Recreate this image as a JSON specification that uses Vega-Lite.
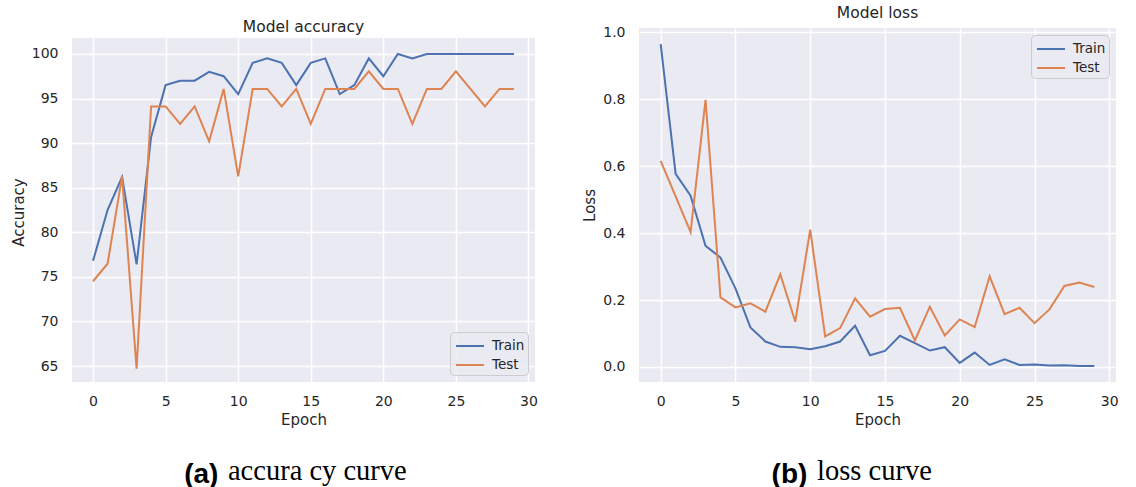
{
  "$schema": "https://vega.github.io/schema/vega-lite/v6.json",
  "background": "white",
  "padding": {"left": 11, "top": 5, "right": 5, "bottom": 0},
  "datasets": {
    "acc": [
      {"epoch": 0, "series": "Train", "value": 76.8}, {"epoch": 1, "series": "Train", "value": 82.5}, {"epoch": 2, "series": "Train", "value": 86.2}, {"epoch": 3, "series": "Train", "value": 76.4}, {"epoch": 4, "series": "Train", "value": 90.7}, {"epoch": 5, "series": "Train", "value": 96.5}, {"epoch": 6, "series": "Train", "value": 97.0}, {"epoch": 7, "series": "Train", "value": 97.0}, {"epoch": 8, "series": "Train", "value": 98.0}, {"epoch": 9, "series": "Train", "value": 97.5}, {"epoch": 10, "series": "Train", "value": 95.5}, {"epoch": 11, "series": "Train", "value": 99.0}, {"epoch": 12, "series": "Train", "value": 99.5}, {"epoch": 13, "series": "Train", "value": 99.0}, {"epoch": 14, "series": "Train", "value": 96.5}, {"epoch": 15, "series": "Train", "value": 99.0}, {"epoch": 16, "series": "Train", "value": 99.5}, {"epoch": 17, "series": "Train", "value": 95.5}, {"epoch": 18, "series": "Train", "value": 96.5}, {"epoch": 19, "series": "Train", "value": 99.5}, {"epoch": 20, "series": "Train", "value": 97.5}, {"epoch": 21, "series": "Train", "value": 100}, {"epoch": 22, "series": "Train", "value": 99.5}, {"epoch": 23, "series": "Train", "value": 100}, {"epoch": 24, "series": "Train", "value": 100}, {"epoch": 25, "series": "Train", "value": 100}, {"epoch": 26, "series": "Train", "value": 100}, {"epoch": 27, "series": "Train", "value": 100}, {"epoch": 28, "series": "Train", "value": 100}, {"epoch": 29, "series": "Train", "value": 100},
      {"epoch": 0, "series": "Test", "value": 74.51}, {"epoch": 1, "series": "Test", "value": 76.47}, {"epoch": 2, "series": "Test", "value": 86.27}, {"epoch": 3, "series": "Test", "value": 64.71}, {"epoch": 4, "series": "Test", "value": 94.12}, {"epoch": 5, "series": "Test", "value": 94.12}, {"epoch": 6, "series": "Test", "value": 92.16}, {"epoch": 7, "series": "Test", "value": 94.12}, {"epoch": 8, "series": "Test", "value": 90.2}, {"epoch": 9, "series": "Test", "value": 96.08}, {"epoch": 10, "series": "Test", "value": 86.27}, {"epoch": 11, "series": "Test", "value": 96.08}, {"epoch": 12, "series": "Test", "value": 96.08}, {"epoch": 13, "series": "Test", "value": 94.12}, {"epoch": 14, "series": "Test", "value": 96.08}, {"epoch": 15, "series": "Test", "value": 92.16}, {"epoch": 16, "series": "Test", "value": 96.08}, {"epoch": 17, "series": "Test", "value": 96.08}, {"epoch": 18, "series": "Test", "value": 96.08}, {"epoch": 19, "series": "Test", "value": 98.04}, {"epoch": 20, "series": "Test", "value": 96.08}, {"epoch": 21, "series": "Test", "value": 96.08}, {"epoch": 22, "series": "Test", "value": 92.16}, {"epoch": 23, "series": "Test", "value": 96.08}, {"epoch": 24, "series": "Test", "value": 96.08}, {"epoch": 25, "series": "Test", "value": 98.04}, {"epoch": 26, "series": "Test", "value": 96.08}, {"epoch": 27, "series": "Test", "value": 94.12}, {"epoch": 28, "series": "Test", "value": 96.08}, {"epoch": 29, "series": "Test", "value": 96.08}
    ],
    "loss": [
      {"epoch": 0, "series": "Train", "value": 0.965}, {"epoch": 1, "series": "Train", "value": 0.577}, {"epoch": 2, "series": "Train", "value": 0.512}, {"epoch": 3, "series": "Train", "value": 0.362}, {"epoch": 4, "series": "Train", "value": 0.327}, {"epoch": 5, "series": "Train", "value": 0.235}, {"epoch": 6, "series": "Train", "value": 0.118}, {"epoch": 7, "series": "Train", "value": 0.076}, {"epoch": 8, "series": "Train", "value": 0.06}, {"epoch": 9, "series": "Train", "value": 0.059}, {"epoch": 10, "series": "Train", "value": 0.053}, {"epoch": 11, "series": "Train", "value": 0.062}, {"epoch": 12, "series": "Train", "value": 0.076}, {"epoch": 13, "series": "Train", "value": 0.123}, {"epoch": 14, "series": "Train", "value": 0.035}, {"epoch": 15, "series": "Train", "value": 0.048}, {"epoch": 16, "series": "Train", "value": 0.093}, {"epoch": 17, "series": "Train", "value": 0.071}, {"epoch": 18, "series": "Train", "value": 0.049}, {"epoch": 19, "series": "Train", "value": 0.059}, {"epoch": 20, "series": "Train", "value": 0.012}, {"epoch": 21, "series": "Train", "value": 0.043}, {"epoch": 22, "series": "Train", "value": 0.006}, {"epoch": 23, "series": "Train", "value": 0.023}, {"epoch": 24, "series": "Train", "value": 0.006}, {"epoch": 25, "series": "Train", "value": 0.007}, {"epoch": 26, "series": "Train", "value": 0.004}, {"epoch": 27, "series": "Train", "value": 0.005}, {"epoch": 28, "series": "Train", "value": 0.003}, {"epoch": 29, "series": "Train", "value": 0.003},
      {"epoch": 0, "series": "Test", "value": 0.616}, {"epoch": 1, "series": "Test", "value": 0.51}, {"epoch": 2, "series": "Test", "value": 0.403}, {"epoch": 3, "series": "Test", "value": 0.798}, {"epoch": 4, "series": "Test", "value": 0.208}, {"epoch": 5, "series": "Test", "value": 0.178}, {"epoch": 6, "series": "Test", "value": 0.19}, {"epoch": 7, "series": "Test", "value": 0.165}, {"epoch": 8, "series": "Test", "value": 0.277}, {"epoch": 9, "series": "Test", "value": 0.135}, {"epoch": 10, "series": "Test", "value": 0.41}, {"epoch": 11, "series": "Test", "value": 0.091}, {"epoch": 12, "series": "Test", "value": 0.116}, {"epoch": 13, "series": "Test", "value": 0.205}, {"epoch": 14, "series": "Test", "value": 0.15}, {"epoch": 15, "series": "Test", "value": 0.173}, {"epoch": 16, "series": "Test", "value": 0.177}, {"epoch": 17, "series": "Test", "value": 0.079}, {"epoch": 18, "series": "Test", "value": 0.18}, {"epoch": 19, "series": "Test", "value": 0.094}, {"epoch": 20, "series": "Test", "value": 0.142}, {"epoch": 21, "series": "Test", "value": 0.119}, {"epoch": 22, "series": "Test", "value": 0.271}, {"epoch": 23, "series": "Test", "value": 0.158}, {"epoch": 24, "series": "Test", "value": 0.177}, {"epoch": 25, "series": "Test", "value": 0.131}, {"epoch": 26, "series": "Test", "value": 0.172}, {"epoch": 27, "series": "Test", "value": 0.242}, {"epoch": 28, "series": "Test", "value": 0.252}, {"epoch": 29, "series": "Test", "value": 0.239}
    ]
  },
  "config": {
    "view": {"fill": "#eaeaf2", "stroke": null},
    "axis": {"domain": false, "ticks": false, "grid": true, "gridColor": "white", "gridWidth": 1.5, "labelFont": "DejaVu Sans", "labelFontSize": 14, "labelColor": "#262626", "titleFont": "DejaVu Sans", "titleFontSize": 15, "titleFontWeight": "normal", "titleColor": "#262626"},
    "axisX": {"labelPadding": 12, "titlePadding": 4},
    "axisY": {"labelPadding": 14, "titlePadding": 5},
    "title": {"font": "DejaVu Sans", "fontSize": 15.5, "fontWeight": "normal", "color": "#262626"},
    "legend": {"title": null, "symbolType": "M-1.4,0H1.4", "symbolStrokeWidth": 2, "symbolSize": 400, "symbolOffset": 6, "labelFont": "DejaVu Sans", "labelFontSize": 13.5, "labelColor": "#262626", "fillColor": "rgba(234,234,242,0.85)", "strokeColor": "#cccccc", "cornerRadius": 4, "padding": 3, "labelOffset": 11, "rowPadding": 1, "offset": 7}
  },
  "spacing": 44,
  "resolve": {"scale": {"color": "independent"}, "legend": {"color": "independent"}},
  "hconcat": [
    {
      "title": {"text": "accura cy curve", "orient": "bottom", "font": "Liberation Serif", "fontSize": 28.5, "fontWeight": "normal", "color": "black", "baseline": "alphabetic", "dx": 43, "dy": -13, "anchor": "middle"},
      "resolve": {"scale": {"color": "independent"}, "legend": {"color": "independent"}},
      "vconcat": [
        {
          "title": {"text": "(a)", "orient": "bottom", "font": "Liberation Sans", "fontSize": 28, "fontWeight": "bold", "color": "black", "baseline": "alphabetic", "offset": 56, "dx": -73, "anchor": "middle"},
          "resolve": {"scale": {"color": "independent"}, "legend": {"color": "independent"}},
          "vconcat": [
            {
              "width": 463,
              "height": 354,
              "title": {"text": "Model accuracy", "baseline": "alphabetic", "offset": -8, "dy": 11},
              "layer": [
                {
                  "data": {"values": [{}]},
                  "mark": {"type": "rect", "fill": "white"},
                  "encoding": {
                    "x": {"datum": -1.45, "type": "quantitative"},
                    "x2": {"datum": 30.45},
                    "y": {"datum": 101.79, "type": "quantitative"},
                    "y2": {"datum": 102.91}
                  }
                },
                {
                  "data": {"name": "acc"},
                  "mark": {"type": "line", "strokeWidth": 2},
                  "encoding": {
                    "x": {"field": "epoch", "type": "quantitative", "title": "Epoch", "scale": {"domain": [-1.45, 30.45], "nice": false, "zero": false}, "axis": {"values": [0, 5, 10, 15, 20, 25, 30]}},
                    "y": {"field": "value", "type": "quantitative", "title": "Accuracy", "scale": {"domain": [63.21, 102.91], "nice": false, "zero": false}, "axis": {"values": [65, 70, 75, 80, 85, 90, 95, 100], "titleY": 184}},
                    "color": {"field": "series", "type": "nominal", "scale": {"domain": ["Train", "Test"], "range": ["#4c72b0", "#dd8452"]}, "legend": {"orient": "bottom-right"}},
                    "order": {"field": "epoch", "type": "quantitative"}
                  }
                }
              ]
            }
          ]
        }
      ]
    },
    {
      "title": {"text": "loss curve", "orient": "bottom", "font": "Liberation Serif", "fontSize": 28.5, "fontWeight": "normal", "color": "black", "baseline": "alphabetic", "dx": 24, "dy": -13, "anchor": "middle"},
      "resolve": {"scale": {"color": "independent"}, "legend": {"color": "independent"}},
      "vconcat": [
        {
          "title": {"text": "(b)", "orient": "bottom", "font": "Liberation Sans", "fontSize": 28, "fontWeight": "bold", "color": "black", "baseline": "alphabetic", "offset": 56, "dx": -61, "anchor": "middle"},
          "resolve": {"scale": {"color": "independent"}, "legend": {"color": "independent"}},
          "vconcat": [
            {
              "width": 477,
              "height": 354,
              "title": {"text": "Model loss", "baseline": "alphabetic", "offset": -8},
              "data": {"name": "loss"},
              "mark": {"type": "line", "strokeWidth": 2},
              "encoding": {
                "x": {"field": "epoch", "type": "quantitative", "title": "Epoch", "scale": {"domain": [-1.45, 30.45], "nice": false, "zero": false}, "axis": {"values": [0, 5, 10, 15, 20, 25, 30]}},
                "y": {"field": "value", "type": "quantitative", "title": "Loss", "scale": {"domain": [-0.045, 1.013], "nice": false, "zero": false}, "axis": {"values": [0, 0.2, 0.4, 0.6, 0.8, 1.0], "format": ".1f"}},
                "color": {"field": "series", "type": "nominal", "scale": {"domain": ["Train", "Test"], "range": ["#4c72b0", "#dd8452"]}, "legend": {"orient": "top-right"}},
                "order": {"field": "epoch", "type": "quantitative"}
              }
            }
          ]
        }
      ]
    }
  ]
}
